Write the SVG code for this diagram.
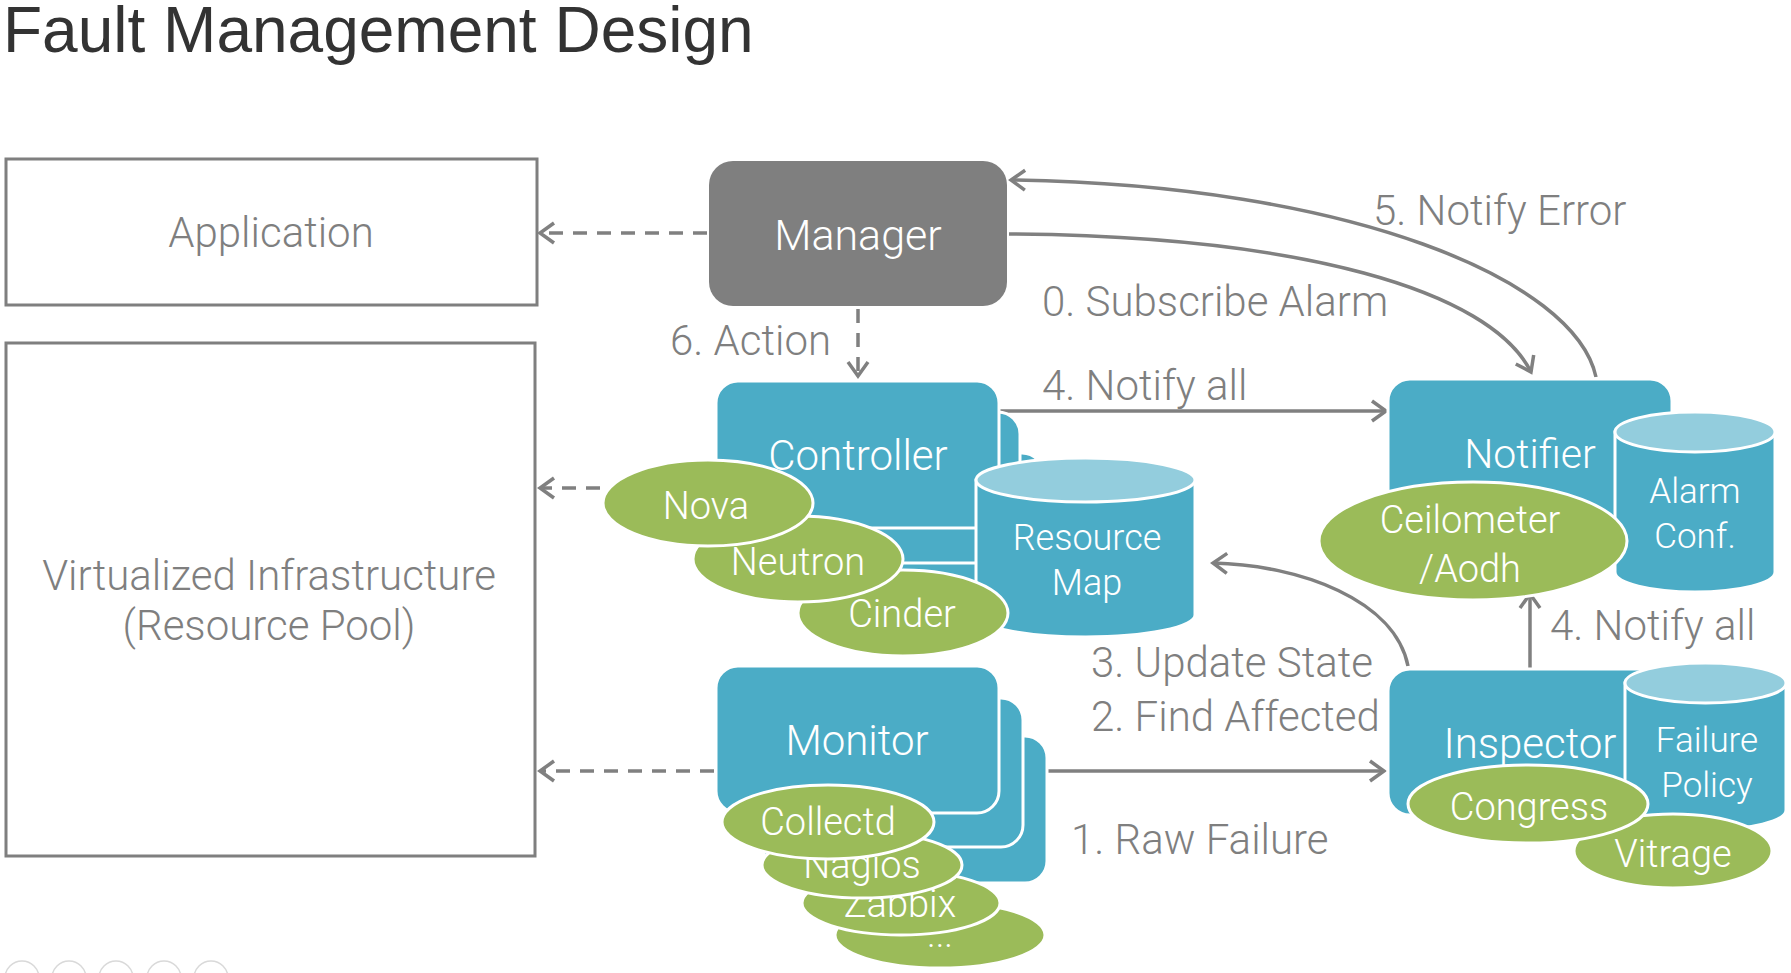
<svg xmlns="http://www.w3.org/2000/svg" width="1791" height="973" viewBox="0 0 1791 973">
<style>
.t{font-family:Roboto,"Liberation Sans",sans-serif;font-weight:300;}
.lbl{fill:#7f7f7f;font-size:42px;}
.w{fill:#ffffff;}
.box{fill:#4bacc6;stroke:#ffffff;stroke-width:3;}
.cylb{fill:#4bacc6;stroke:#ffffff;stroke-width:3;}
.cylt{fill:#93cddd;stroke:#ffffff;stroke-width:3;}
.ell{fill:#9bbb59;stroke:#ffffff;stroke-width:3;}
.frame{fill:#ffffff;stroke:#7f7f7f;stroke-width:3;}
.con{fill:none;stroke:#808080;stroke-width:3.5;}
.dash{stroke-dasharray:14 10;}
.icon{fill:none;stroke:#d9d9d9;stroke-width:1.5;}
</style>
<defs>
<marker id="arr" viewBox="0 0 20 24" refX="17" refY="12" markerWidth="20" markerHeight="24" markerUnits="userSpaceOnUse" orient="auto">
<path d="M3,2 L17,12 L3,22" fill="none" stroke="#808080" stroke-width="3.5"/>
</marker>
</defs>
<rect width="1791" height="973" fill="#ffffff"/>
<text x="3" y="52" style="font-family:'Liberation Sans',sans-serif;font-size:64px;fill:#333333;">Fault Management Design</text>

<g id="application">
<rect class="frame" x="6" y="159" width="531" height="146"/>
<text class="t lbl" x="271" y="247" text-anchor="middle">Application</text>
</g>
<g id="infrastructure">
<rect class="frame" x="6" y="343" width="529" height="513"/>
<text class="t lbl" x="269" y="590" text-anchor="middle" font-size="41">Virtualized Infrastructure</text>
<text class="t lbl" x="269" y="640" text-anchor="middle" font-size="41">(Resource Pool)</text>
</g>

<g id="connectors">
<line class="con dash" x1="707" y1="233" x2="540" y2="233" marker-end="url(#arr)"/>
<line class="con dash" x1="858" y1="309" x2="858" y2="376" marker-end="url(#arr)"/>
<line class="con dash" x1="600" y1="488" x2="540" y2="488" marker-end="url(#arr)"/>
<line class="con dash" x1="714" y1="771" x2="540" y2="771" marker-end="url(#arr)"/>
<path class="con" d="M1009,234 C1300,236 1490,290 1531,372" marker-end="url(#arr)"/>
<path class="con" d="M1596,377 C1575,280 1350,185 1011,180" marker-end="url(#arr)"/>
<line class="con" x1="1000" y1="411" x2="1386" y2="411" marker-end="url(#arr)"/>
<line class="con" x1="1040" y1="771" x2="1384" y2="771" marker-end="url(#arr)"/>
<line class="con" x1="1530" y1="668" x2="1530" y2="594" marker-end="url(#arr)"/>
<path class="con" d="M1408,666 C1395,600 1300,565 1213,563" marker-end="url(#arr)"/>
</g>

<g id="manager">
<rect x="709" y="161" width="298" height="145" rx="24" fill="#7f7f7f"/>
<text class="t w" x="858" y="250" text-anchor="middle" font-size="43">Manager</text>
</g>

<g id="controller">
<rect class="box" x="764" y="453" width="280" height="147" rx="22"/>
<rect class="box" x="740" y="412" width="280" height="151" rx="22"/>
<rect class="box" x="716" y="381" width="283" height="147" rx="22"/>
<text class="t w" x="858" y="470" text-anchor="middle" font-size="42">Controller</text>
</g>

<g id="resource-map">
<path class="cylb" d="M976,480 L976,615 A109.5,22 0 0 0 1195,615 L1195,480 Z"/>
<ellipse class="cylt" cx="1085.5" cy="480" rx="109.5" ry="22"/>
<text class="t w" x="1087" y="550" text-anchor="middle" font-size="36">Resource</text>
<text class="t w" x="1087" y="595" text-anchor="middle" font-size="36">Map</text>
</g>

<g id="cinder">
<ellipse class="ell" cx="903" cy="613" rx="105" ry="43"/>
<text class="t w" x="902" y="627" text-anchor="middle" font-size="38">Cinder</text>
</g>
<g id="neutron">
<ellipse class="ell" cx="798" cy="559" rx="105" ry="43"/>
<text class="t w" x="798" y="575" text-anchor="middle" font-size="38">Neutron</text>
</g>
<g id="nova">
<ellipse class="ell" cx="708" cy="503" rx="105" ry="43"/>
<text class="t w" x="706" y="519" text-anchor="middle" font-size="38">Nova</text>
</g>

<g id="monitor">
<rect class="box" x="764" y="736" width="283" height="147" rx="22"/>
<rect class="box" x="740" y="698" width="283" height="149" rx="22"/>
<rect class="box" x="716" y="666" width="283" height="147" rx="22"/>
<text class="t w" x="857" y="755" text-anchor="middle" font-size="42">Monitor</text>
</g>
<g id="more">
<ellipse class="ell" cx="940" cy="935" rx="105" ry="33"/>
<text class="t w" x="940" y="947" text-anchor="middle" font-size="36">...</text>
</g>
<g id="zabbix">
<ellipse class="ell" cx="901" cy="903" rx="99" ry="32"/>
<text class="t w" x="900" y="917" text-anchor="middle" font-size="38">Zabbix</text>
</g>
<g id="nagios">
<ellipse class="ell" cx="862" cy="865" rx="100" ry="33"/>
<text class="t w" x="862" y="878" text-anchor="middle" font-size="38">Nagios</text>
</g>
<g id="collectd">
<ellipse class="ell" cx="828" cy="822" rx="106" ry="37"/>
<text class="t w" x="828" y="835" text-anchor="middle" font-size="38">Collectd</text>
</g>

<g id="notifier">
<rect class="box" x="1388" y="379" width="284" height="147" rx="22"/>
<text class="t w" x="1530" y="468" text-anchor="middle" font-size="41">Notifier</text>
</g>
<g id="alarm-conf">
<path class="cylb" d="M1615,432 L1615,572 A80,20 0 0 0 1775,572 L1775,432 Z"/>
<ellipse class="cylt" cx="1695" cy="432" rx="80" ry="20"/>
<text class="t w" x="1695" y="503" text-anchor="middle" font-size="35">Alarm</text>
<text class="t w" x="1695" y="548" text-anchor="middle" font-size="35">Conf.</text>
</g>
<g id="ceilometer">
<ellipse class="ell" cx="1473" cy="541" rx="154" ry="59"/>
<text class="t w" x="1470" y="533" text-anchor="middle" font-size="38">Ceilometer</text>
<text class="t w" x="1470" y="582" text-anchor="middle" font-size="38">/Aodh</text>
</g>

<g id="inspector">
<rect class="box" x="1388" y="669" width="284" height="146" rx="22"/>
<text class="t w" x="1530" y="758" text-anchor="middle" font-size="42">Inspector</text>
</g>
<g id="failure-policy">
<path class="cylb" d="M1625,683 L1625,810 A80.5,20 0 0 0 1786,810 L1786,683 Z"/>
<ellipse class="cylt" cx="1705.5" cy="683" rx="80.5" ry="20"/>
<text class="t w" x="1707" y="752" text-anchor="middle" font-size="35">Failure</text>
<text class="t w" x="1707" y="797" text-anchor="middle" font-size="35">Policy</text>
</g>
<g id="vitrage">
<ellipse class="ell" cx="1673" cy="851" rx="99" ry="37"/>
<text class="t w" x="1673" y="867" text-anchor="middle" font-size="38">Vitrage</text>
</g>
<g id="congress">
<ellipse class="ell" cx="1528" cy="804" rx="120" ry="39"/>
<text class="t w" x="1529" y="820" text-anchor="middle" font-size="38">Congress</text>
</g>

<g id="labels">
<text class="t lbl" x="670" y="355">6. Action</text>
<text class="t lbl" x="1373" y="225">5. Notify Error</text>
<text class="t lbl" x="1042" y="316">0. Subscribe Alarm</text>
<text class="t lbl" x="1042" y="400">4. Notify all</text>
<text class="t lbl" x="1550" y="640">4. Notify all</text>
<text class="t lbl" x="1091" y="677">3. Update State</text>
<text class="t lbl" x="1091" y="731">2. Find Affected</text>
<text class="t lbl" x="1071" y="854">1. Raw Failure</text>
</g>

<g id="controls">
<circle class="icon" cx="22" cy="978" r="17"/>
<circle class="icon" cx="69" cy="978" r="17"/>
<circle class="icon" cx="116" cy="978" r="17"/>
<circle class="icon" cx="164" cy="978" r="17"/>
<circle class="icon" cx="211" cy="978" r="17"/>
</g>
</svg>
